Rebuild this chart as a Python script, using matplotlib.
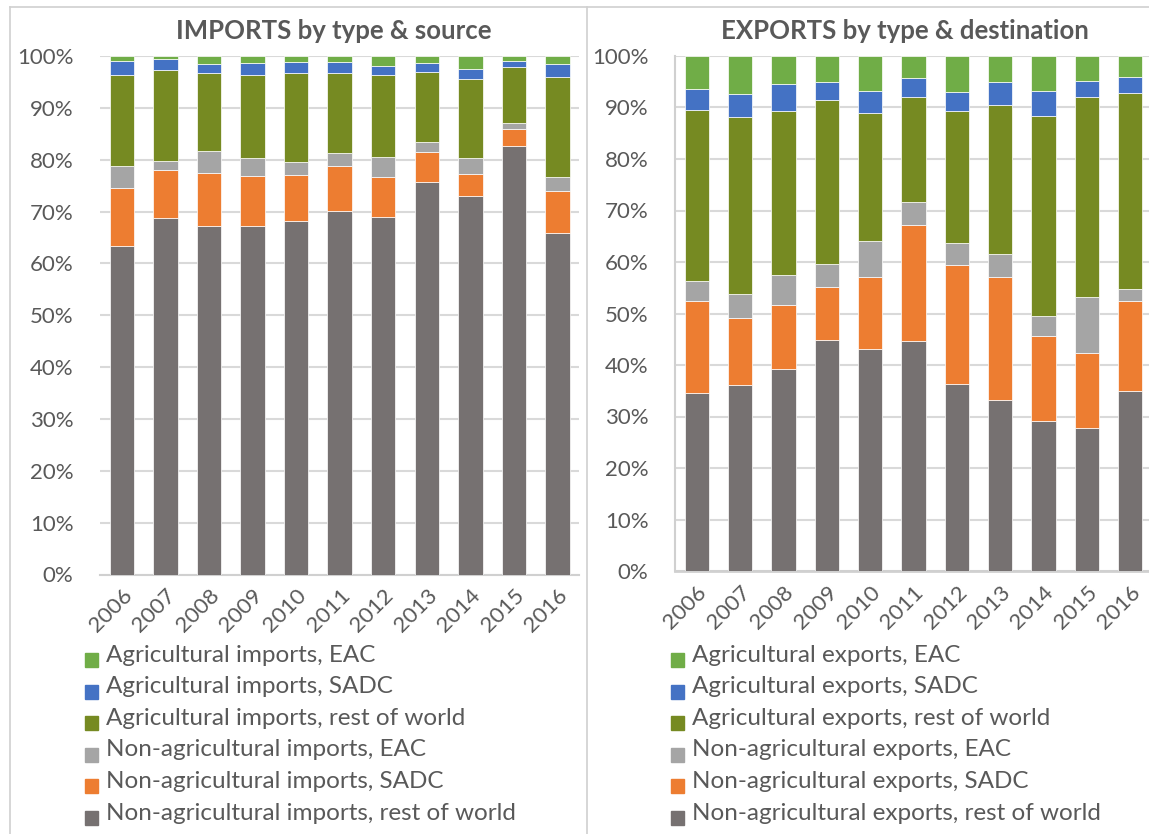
import matplotlib
matplotlib.use("Agg")
import matplotlib.pyplot as plt
from matplotlib.patches import Rectangle
from matplotlib.lines import Line2D
from matplotlib.ticker import PercentFormatter
import numpy as np

years = ["2006", "2007", "2008", "2009", "2010", "2011", "2012", "2013", "2014", "2015", "2016"]

# Imports, shares in percent (stacked bottom to top)
imp_nonag_row = [63.4, 68.8, 67.3, 67.3, 68.1, 70.2, 69.0, 75.7, 73.0, 82.7, 65.9]
imp_nonag_sadc = [11.2, 9.3, 10.2, 9.5, 8.9, 8.5, 7.6, 5.7, 4.2, 3.2, 8.0]
imp_nonag_eac = [4.2, 1.6, 4.2, 3.6, 2.6, 2.5, 4.0, 2.0, 3.1, 1.2, 2.7]
imp_ag_row = [17.5, 17.6, 15.1, 15.9, 17.1, 15.6, 15.7, 13.6, 15.2, 10.7, 19.3]
imp_ag_sadc = [2.8, 2.2, 1.7, 2.3, 2.1, 2.0, 1.8, 1.7, 1.9, 1.3, 2.6]
imp_ag_eac = [0.9, 0.5, 1.5, 1.4, 1.2, 1.2, 1.9, 1.3, 2.6, 0.9, 1.5]

# Exports, shares in percent (stacked bottom to top)
exp_nonag_row = [34.6, 36.2, 39.3, 44.9, 43.2, 44.7, 36.3, 33.2, 29.1, 27.7, 35.0]
exp_nonag_sadc = [17.9, 12.9, 12.3, 10.2, 13.8, 22.4, 23.1, 23.8, 16.6, 14.6, 17.4]
exp_nonag_eac = [3.8, 4.7, 5.9, 4.5, 7.1, 4.6, 4.3, 4.6, 3.9, 10.9, 2.4]
exp_ag_row = [33.3, 34.4, 31.8, 31.9, 24.8, 20.3, 25.6, 28.9, 38.7, 38.8, 38.0]
exp_ag_sadc = [3.9, 4.5, 5.2, 3.4, 4.4, 3.8, 3.8, 4.5, 5.0, 3.2, 3.2]
exp_ag_eac = [6.5, 7.3, 5.5, 5.1, 6.7, 4.2, 6.9, 5.0, 6.7, 4.8, 4.0]

imp_labels = ["Non-agricultural imports, rest of world", "Non-agricultural imports, SADC",
              "Non-agricultural imports, EAC", "Agricultural imports, rest of world",
              "Agricultural imports, SADC", "Agricultural imports, EAC"]
exp_labels = ["Non-agricultural exports, rest of world", "Non-agricultural exports, SADC",
              "Non-agricultural exports, EAC", "Agricultural exports, rest of world",
              "Agricultural exports, SADC", "Agricultural exports, EAC"]
colors = ["#767171", "#ED7D31", "#A5A5A5", "#768A22", "#4472C4", "#70AD47"]

TXT = "#595959"
FONT = "Lato"
W, H = 1149, 834

fig = plt.figure(figsize=(W / 100, H / 100), dpi=100)


def px_rect(x0, x1, ytop, ybot):
    return [x0 / W, 1 - ybot / H, (x1 - x0) / W, (ybot - ytop) / H]


def stacked(ax, series, title, title_x, show_left_spine):
    data = np.array(series, dtype=float)
    data = data / data.sum(axis=0) * 100
    x = np.arange(len(years))
    bottom = np.zeros(len(years))
    for vals, c in zip(data, colors):
        ax.bar(x, vals, bottom=bottom, width=0.56, color=c,
               edgecolor="white", linewidth=0.5, zorder=3)
        bottom += vals
    ax.set_xlim(-0.5, len(years) - 0.5)
    ax.set_ylim(0, 100)
    ax.set_yticks(np.arange(0, 101, 10))
    ax.yaxis.set_major_formatter(PercentFormatter(decimals=0))
    ax.grid(axis="y", color="#D9D9D9", linewidth=1.5, zorder=0)
    ax.set_axisbelow(True)
    for s in ["top", "right"]:
        ax.spines[s].set_visible(False)
    ax.spines["left"].set_visible(show_left_spine)
    ax.spines["left"].set_color("#D0D0D0")
    ax.spines["left"].set_linewidth(1.5)
    ax.spines["bottom"].set_color("#D0D0D0")
    ax.spines["bottom"].set_linewidth(2 if show_left_spine else 1.5)
    ax.set_xticks(x)
    ax.set_xticklabels(years, rotation=45, ha="right", rotation_mode="anchor")
    ax.tick_params(axis="both", length=0, labelcolor=TXT, labelsize=16)
    ax.tick_params(axis="y", pad=19)
    ax.tick_params(axis="x", pad=8)
    for lab in ax.get_xticklabels() + ax.get_yticklabels():
        lab.set_fontfamily(FONT)
    fig.text(title_x / W, 1 - 31 / H, title, ha="center", va="center",
             fontsize=18.5, fontweight="bold", color=TXT, family=FONT)


ax1 = fig.add_axes(px_rect(100, 579.4, 56, 574.5))
stacked(ax1, [imp_nonag_row, imp_nonag_sadc, imp_nonag_eac, imp_ag_row, imp_ag_sadc, imp_ag_eac],
        "IMPORTS by type & source", 334, False)

ax2 = fig.add_axes(px_rect(675, 1152, 56, 571))
stacked(ax2, [exp_nonag_row, exp_nonag_sadc, exp_nonag_eac, exp_ag_row, exp_ag_sadc, exp_ag_eac],
        "EXPORTS by type & destination", 905, True)


# legends, listed top-down from the top of the stack
def legend(x_box, x_text, labels):
    for i, (lab, c) in enumerate(zip(labels[::-1], colors[::-1])):
        yc = 655 + i * 31.6
        fig.patches.append(Rectangle((x_box / W, 1 - (yc + 12) / H), 13 / W, 14 / H,
                                     transform=fig.transFigure, color=c))
        fig.text(x_text / W, 1 - yc / H, lab, ha="left", va="center",
                 fontsize=17.5, color=TXT, family=FONT)


legend(85, 106, imp_labels)
legend(671, 692, exp_labels)

# panel frames
frame = dict(transform=fig.transFigure, color="#D0D0D0", linewidth=1.2)
fig.lines.append(Line2D([10 / W, 1], [1 - 7 / H] * 2, **frame))
fig.lines.append(Line2D([10 / W] * 2, [0, 1 - 7 / H], **frame))
fig.lines.append(Line2D([587 / W] * 2, [0, 1 - 7 / H], **frame))

fig.savefig("out.png", dpi=100, facecolor="white")
